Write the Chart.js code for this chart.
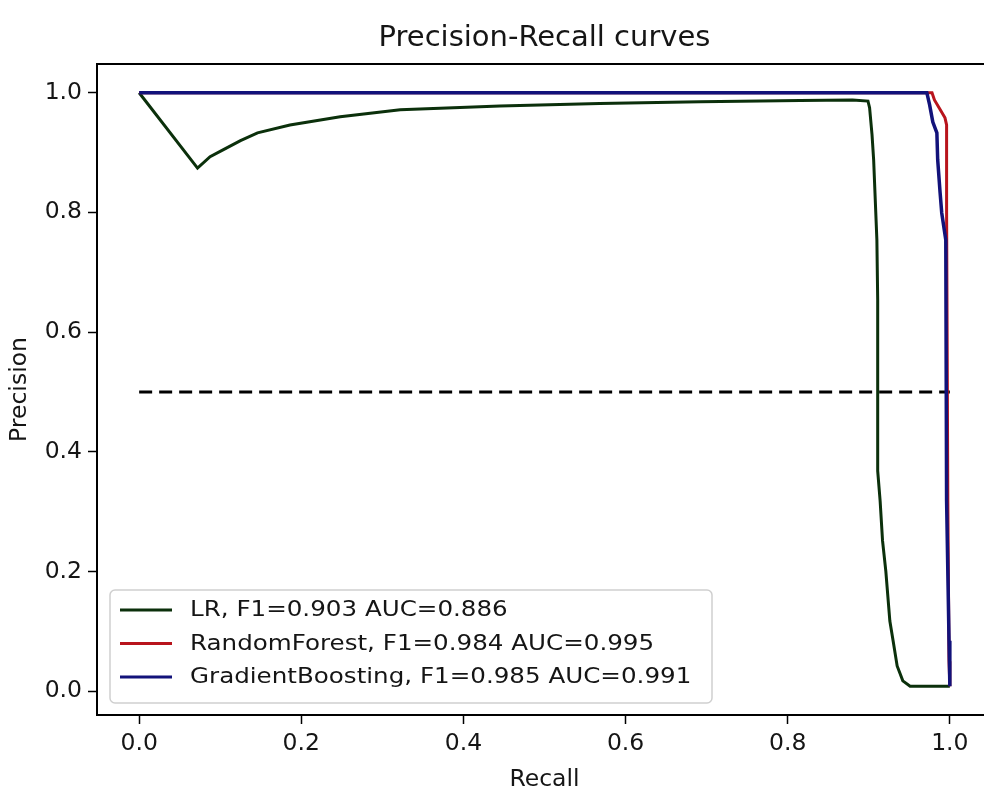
<!DOCTYPE html>
<html>
<head>
<meta charset="utf-8">
<script src="https://cdn.jsdelivr.net/npm/chart.js@4/dist/chart.umd.min.js"></script>
<style>
  html, body { margin: 0; padding: 0; background: #fff; overflow: hidden; width: 984px; height: 789px; }
  #wrap { position: absolute; left: 0; top: 0; width: 1020px; height: 800px; }
</style>
</head>
<body>
<div id="wrap"><canvas id="c" width="1020" height="800"></canvas></div>
<script>
// ---- data ----
const chartTitle = 'Precision-Recall curves';
const xTitle = 'Recall';
const yTitle = 'Precision';
const xTicks = [0.0, 0.2, 0.4, 0.6, 0.8, 1.0];
const yTicks = [0.0, 0.2, 0.4, 0.6, 0.8, 1.0];

const seriesNames = [
  'LR, F1=0.903 AUC=0.886',
  'RandomForest, F1=0.984 AUC=0.995',
  'GradientBoosting, F1=0.985 AUC=0.991'
];
const seriesColors = ['#0b300b', '#b8141c', '#12127a'];

const lrRecall    = [0, 0.072, 0.0875, 0.104, 0.125, 0.146, 0.186, 0.248, 0.322, 0.445, 0.568, 0.692, 0.815, 0.880, 0.899, 0.901, 0.904, 0.906, 0.910, 0.911, 0.911, 0.914, 0.917, 0.921, 0.926, 0.930, 0.935, 0.942, 0.951, 1.0];
const lrPrecision = [1.0, 0.874, 0.893, 0.905, 0.920, 0.933, 0.946, 0.960, 0.9715, 0.978, 0.982, 0.985, 0.987, 0.988, 0.986, 0.975, 0.930, 0.888, 0.754, 0.653, 0.368, 0.318, 0.251, 0.201, 0.117, 0.084, 0.042, 0.017, 0.008, 0.008];

const rfRecall    = [0, 0.978, 0.981, 0.988, 0.994, 0.996, 0.996, 0.9975, 0.999, 1.0];
const rfPrecision = [1.0, 1.0, 0.988, 0.972, 0.958, 0.946, 0.800, 0.318, 0.050, 0.008];

const gbRecall    = [0, 0.9716, 0.975, 0.979, 0.984, 0.985, 0.988, 0.990, 0.995, 0.996, 0.999, 1.0];
const gbPrecision = [1.0, 1.0, 0.980, 0.951, 0.933, 0.888, 0.8325, 0.799, 0.754, 0.318, 0.084, 0.008];

const baseRecall    = [0, 1];
const basePrecision = [0.5, 0.5];

// ---- helpers ----
const FONT = '"DejaVu Sans", "Liberation Sans", sans-serif';
const TEXT = '#151515';
const pts = (xs, ys) => xs.map((x, i) => ({ x: x, y: ys[i] }));

const framePlugin = {
  id: 'frame',
  afterDatasetsDraw(chart) {
    const { ctx, chartArea: a } = chart;
    ctx.save();
    ctx.strokeStyle = '#000';
    ctx.lineWidth = 2;
    ctx.strokeRect(a.left, a.top, a.right - a.left, a.bottom - a.top);
    ctx.restore();
  }
};

const legendPlugin = {
  id: 'boxLegend',
  afterDraw(chart) {
    const { ctx, chartArea: a } = chart;
    const bx = a.left + 13, by = a.bottom - 125, bw = 602, bh = 113;
    ctx.save();
    ctx.beginPath();
    if (ctx.roundRect) ctx.roundRect(bx, by, bw, bh, 5); else ctx.rect(bx, by, bw, bh);
    ctx.fillStyle = 'rgba(255,255,255,0.85)';
    ctx.fill();
    ctx.strokeStyle = '#cfcfcf';
    ctx.lineWidth = 1.5;
    ctx.stroke();
    ctx.textBaseline = 'middle';
    ctx.textAlign = 'left';
    seriesNames.forEach((name, i) => {
      const y = by + 20 + i * 33.5;
      ctx.strokeStyle = seriesColors[i];
      ctx.lineWidth = 3;
      ctx.beginPath();
      ctx.moveTo(bx + 10, y);
      ctx.lineTo(bx + 62, y);
      ctx.stroke();
      ctx.save();
      ctx.translate(bx + 80, y + 1);
      ctx.scale(1.17, 1);
      ctx.font = '21px ' + FONT;
      ctx.fillStyle = TEXT;
      ctx.fillText(name, 0, 0);
      ctx.restore();
    });
    ctx.restore();
  }
};

const lineDs = (label, data, color, extra) => Object.assign({
  label: label,
  data: data,
  showLine: true,
  borderColor: color,
  backgroundColor: color,
  borderWidth: 3,
  pointRadius: 0,
  pointHoverRadius: 0,
  tension: 0,
  fill: false
}, extra || {});

new Chart(document.getElementById('c'), {
  type: 'scatter',
  data: {
    datasets: [
      lineDs(seriesNames[2], pts(gbRecall, gbPrecision), seriesColors[2], { borderWidth: 3.5 }),
      lineDs(seriesNames[1], pts(rfRecall, rfPrecision), seriesColors[1]),
      lineDs(seriesNames[0], pts(lrRecall, lrPrecision), seriesColors[0]),
      lineDs('baseline', pts(baseRecall, basePrecision), '#000', { borderDash: [13, 7] })
    ]
  },
  options: {
    responsive: false,
    devicePixelRatio: 1,
    animation: false,
    layout: { padding: { left: 8, right: 28, top: 0, bottom: 0 } },
    plugins: {
      legend: { display: false },
      tooltip: { enabled: false },
      title: {
        display: true,
        text: chartTitle,
        fullSize: false,
        color: TEXT,
        font: { family: FONT, size: 29, weight: 'normal', lineHeight: 1.2 },
        padding: { top: 21, bottom: 8.2 }
      }
    },
    scales: {
      x: {
        type: 'linear',
        min: -0.052,
        max: 1.052,
        afterBuildTicks: s => { s.ticks = xTicks.map(v => ({ value: v })); },
        afterFit: s => { s.height = 85; },
        ticks: {
          color: TEXT,
          padding: 6,
          font: { family: FONT, size: 23.5 },
          callback: v => Number(v).toFixed(1),
          maxRotation: 0
        },
        grid: { drawOnChartArea: false, drawTicks: true, tickLength: 9, tickColor: '#000', tickWidth: 1.5 },
        border: { display: false },
        title: {
          display: true,
          text: xTitle,
          color: TEXT,
          font: { family: FONT, size: 23.5, lineHeight: 1.0 },
          padding: { top: 0, bottom: 8 }
        }
      },
      y: {
        type: 'linear',
        min: -0.04,
        max: 1.048,
        afterBuildTicks: s => { s.ticks = yTicks.map(v => ({ value: v })); },
        afterFit: s => { s.width = 89; },
        ticks: {
          color: TEXT,
          padding: 6,
          font: { family: FONT, size: 23.5 },
          callback: v => Number(v).toFixed(1)
        },
        grid: { drawOnChartArea: false, drawTicks: true, tickLength: 9, tickColor: '#000', tickWidth: 1.5 },
        border: { display: false },
        title: {
          display: true,
          text: yTitle,
          color: TEXT,
          font: { family: FONT, size: 23.5, lineHeight: 1.0 },
          padding: { top: 0, bottom: 0 }
        }
      }
    }
  },
  plugins: [framePlugin, legendPlugin]
});
</script>
</body>
</html>
